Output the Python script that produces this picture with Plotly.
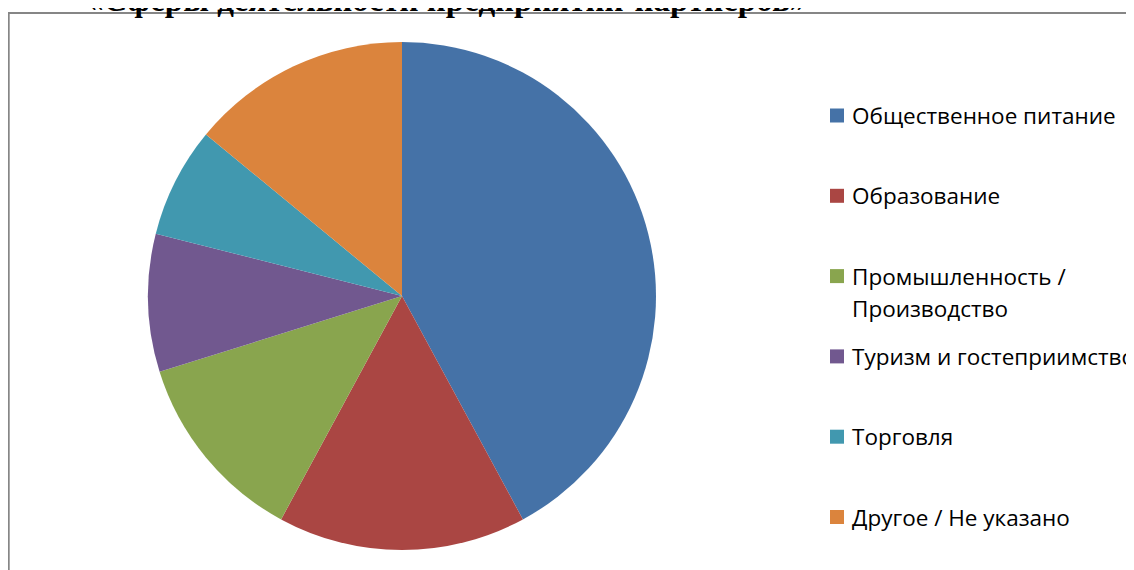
import plotly.graph_objects as go

labels = ["Общественное питание", "Образование", "Промышленность /<br>Производство",
          "Туризм и гостеприимство", "Торговля", "Другое / Не указано"]
values = [24, 9, 7, 5, 4, 8]
colors = ["#4572A7", "#AA4643", "#89A54E", "#71588F", "#4198AF", "#DB843D"]
title = "«Сферы деятельности предприятий-партнеров»"

W, H = 1134, 570
OFF = 8  # page body margin offset

def px(x):
    return (x - OFF) / W

def py(y):
    return 1 - (y - OFF) / H

fig = go.Figure(go.Pie(
    labels=[l.replace("<br>", " ") for l in labels],
    values=values,
    marker=dict(colors=colors, line=dict(width=0)),
    sort=False,
    direction="clockwise",
    rotation=0,
    textinfo="none",
    hoverinfo="label+value+percent",
    showlegend=False,
    domain=dict(x=[px(148), px(656)], y=[py(550), py(42)]),
))

shapes = [
    dict(type="line", xref="paper", yref="paper", x0=px(8.5), x1=px(W + 20), y0=py(13), y1=py(13),
         line=dict(color="#868686", width=2)),
    dict(type="line", xref="paper", yref="paper", x0=px(8.7), x1=px(8.7), y0=py(12), y1=py(H + 20),
         line=dict(color="#868686", width=2)),
]
annotations = [
    dict(text="<b>" + title + "</b>", xref="paper", yref="paper", x=px(446), y=py(-0.5),
         xanchor="center", yanchor="middle", showarrow=False,
         font=dict(family="Liberation Serif", size=33, color="#000000")),
]

legend_font = dict(family="Open Sans", size=22.5, color="#000000")
y0, step, line_h = 115.5, 80.3, 32
for i, (lab, col) in enumerate(zip(labels, colors)):
    yc = y0 + i * step
    shapes.append(dict(type="rect", xref="paper", yref="paper",
                       x0=px(830), x1=px(844), y0=py(yc - 7), y1=py(yc + 7),
                       fillcolor=col, line=dict(width=0)))
    for j, part in enumerate(lab.split("<br>")):
        annotations.append(dict(text=part, xref="paper", yref="paper",
                                x=px(850), y=py(yc + j * line_h), xanchor="left", yanchor="middle",
                                showarrow=False, font=legend_font))

fig.update_layout(
    width=W, height=H,
    margin=dict(l=0, r=0, t=0, b=0),
    paper_bgcolor="white", plot_bgcolor="white",
    shapes=shapes, annotations=annotations,
)

fig.write_html("out.html")
